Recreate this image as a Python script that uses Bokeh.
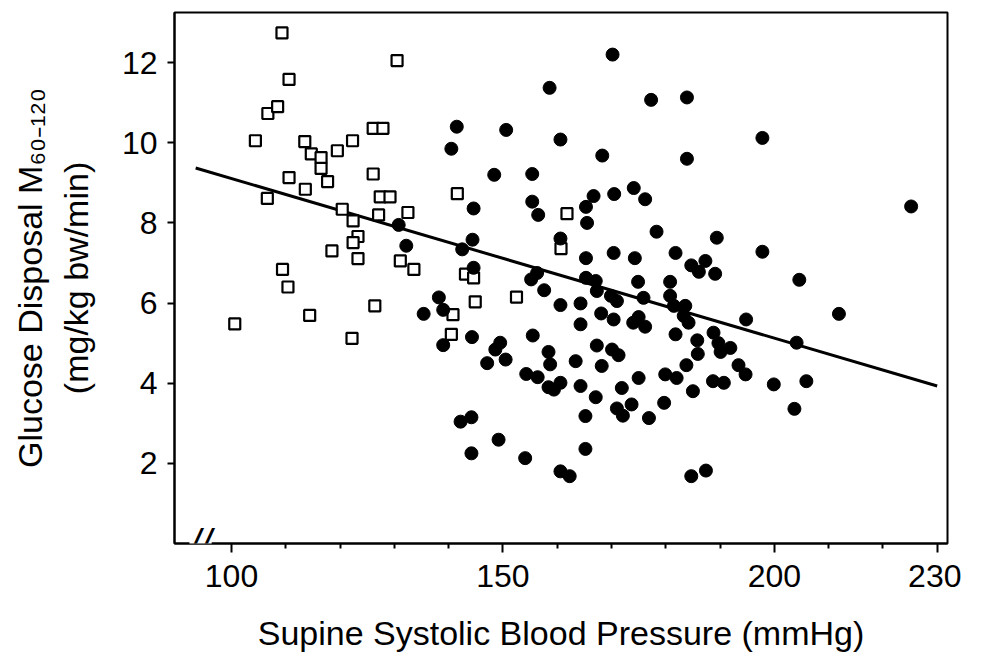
from bokeh.plotting import figure
from bokeh.models import Range1d, FixedTicker, Label
from bokeh.embed import file_html
from bokeh.resources import INLINE

# Normotensive subjects (open squares): systolic BP, glucose disposal
sq_x = [100.6, 104.4, 106.6, 106.7, 108.5, 109.3, 109.4, 110.6, 110.6, 110.4,
        113.5, 114.7, 113.6, 114.4, 116.5, 116.5, 117.7, 118.5, 119.5, 120.4,
        122.3, 122.4, 122.2, 123.3, 122.4, 123.3, 126.1, 127.9, 126.1, 127.4,
        129.2, 127.1, 126.4, 130.5, 132.5, 131.1, 133.6, 141.6, 140.8, 140.5,
        143.1, 144.6, 144.9, 152.5, 161.8, 160.7]
sq_y = [5.48, 10.05, 8.61, 10.73, 10.9, 12.74, 6.84, 11.58, 9.13, 6.4,
        10.03, 9.72, 8.84, 5.69, 9.63, 9.36, 9.03, 7.3, 9.8, 8.34,
        10.05, 8.05, 5.12, 7.66, 7.51, 7.11, 10.36, 10.36, 9.22, 8.65,
        8.65, 8.2, 5.93, 12.05, 8.26, 7.05, 6.84, 8.73, 5.71, 5.22,
        6.72, 6.63, 6.03, 6.15, 8.23, 7.36]

# Hypertensive subjects (filled circles)
ci_x = [141.5, 140.5, 130.8, 132.2, 142.5, 138.2, 139.0, 135.4, 144.3, 139.0,
        147.1, 142.2, 144.2, 144.2, 158.6, 177.3, 183.9, 150.6, 160.6, 168.3,
        183.9, 148.4, 155.4, 174.1, 170.5, 166.7, 165.3, 176.2, 144.6, 155.4,
        156.5, 165.5, 178.3, 189.4, 144.4, 160.6, 165.3, 170.4, 174.3, 181.8,
        187.3, 184.7, 186.1, 189.1, 144.6, 156.3, 155.2, 157.6, 165.3, 167.1,
        167.3, 174.9, 180.8, 169.9, 175.9, 180.8, 170.2,
        171.0, 181.5, 183.6, 160.6, 164.3, 168.1, 170.4, 175.0, 174.0, 176.2,
        183.3, 184.2, 164.3, 188.8, 155.5, 181.8, 185.8, 189.7, 190.1, 191.9,
        149.5, 148.6, 150.5, 158.4, 158.7, 163.4, 167.3, 170.1, 171.3, 168.2,
        185.9, 183.8, 188.7, 154.3, 156.4, 158.4, 159.4, 160.6, 164.3, 167.1,
        171.9, 175.0, 179.9, 182.0, 185.0, 179.7, 173.7, 171.0, 172.1, 176.9,
        165.2, 149.2, 154.1, 165.2, 160.6, 162.3, 184.7, 187.4,
        197.8, 225.2, 197.8, 204.6, 194.8, 211.9, 193.4, 194.7, 204.1, 190.7,
        199.9, 205.9, 203.7]
ci_y = [10.4, 9.85, 7.95, 7.43, 7.34, 6.14, 5.83, 5.73, 5.15, 4.95,
        4.5, 3.04, 3.15, 2.25, 11.37, 11.07, 11.13, 10.32, 10.08, 9.68,
        9.6, 9.2, 9.22, 8.87, 8.72, 8.67, 8.4, 8.59, 8.36, 8.53,
        8.2, 8.0, 7.78, 7.63, 7.58, 7.61, 7.12, 7.25, 7.12, 7.25,
        7.05, 6.94, 6.78, 6.73, 6.88, 6.75, 6.59, 6.32, 6.63, 6.55,
        6.3, 6.53, 6.53, 6.18, 6.13, 6.18, 12.2,
        6.05, 5.93, 5.93, 5.95, 5.99, 5.74, 5.59, 5.65, 5.51, 5.41,
        5.68, 5.51, 5.47, 5.26, 5.19, 5.22, 5.07, 5.0, 4.78, 4.88,
        5.01, 4.84, 4.59, 4.78, 4.47, 4.55, 4.94, 4.84, 4.7, 4.43,
        4.73, 4.45, 4.05, 4.23, 4.15, 3.9, 3.84, 4.01, 3.93, 3.65,
        3.88, 4.13, 4.22, 4.13, 3.8, 3.51, 3.47, 3.37, 3.19, 3.13,
        3.18, 2.59, 2.13, 2.36, 1.8, 1.68, 1.68, 1.82,
        10.12, 8.41, 7.28, 6.58, 5.59, 5.73, 4.45, 4.22, 5.01, 4.01,
        3.97, 4.05, 3.36]

# Regression line end points
fit_x = [93.4, 230.0]
fit_y = [9.37, 3.93]

x_major = [100, 150, 200, 230]
x_minor = [110, 120, 130, 140, 160, 170, 180, 190, 210, 220]
y_major = [2, 4, 6, 8, 10, 12]

FONT = "Liberation Sans"

p = figure(frame_width=773, frame_height=531,
           x_range=Range1d(89.5, 231.9), y_range=Range1d(0, 13.25),
           output_backend="svg", toolbar_location=None,
           min_border_left=174, min_border_top=12, min_border_right=14,
           min_border_bottom=110)

p.xgrid.visible = False
p.ygrid.visible = False
p.outline_line_color = "black"
p.outline_line_width = 2
p.background_fill_color = "white"
p.border_fill_color = "white"

for ax in (p.xaxis[0], p.yaxis[0]):
    ax.axis_line_width = 2
    ax.axis_line_color = "black"
    ax.major_tick_line_width = 2
    ax.major_tick_line_color = "black"
    ax.minor_tick_line_width = 2
    ax.minor_tick_line_color = "black"
    ax.major_tick_in = 0
    ax.minor_tick_in = 0
    ax.major_label_text_font = FONT
    ax.major_label_text_font_size = "32px"
    ax.major_label_text_color = "black"
    ax.axis_label_text_font = FONT
    ax.axis_label_text_font_size = "34px"
    ax.axis_label_text_font_style = "normal"
    ax.axis_label_text_color = "black"

xa = p.xaxis[0]
xa.ticker = FixedTicker(ticks=x_major, minor_ticks=x_minor)
xa.major_tick_out = 9
xa.minor_tick_out = 5
xa.major_label_standoff = 12
xa.axis_label = "Supine Systolic Blood Pressure (mmHg)"
xa.axis_label_standoff = 24

ya = p.yaxis[0]
ya.ticker = FixedTicker(ticks=y_major, minor_ticks=[])
ya.major_tick_out = 7
ya.minor_tick_out = 0
ya.major_label_standoff = 10
ya.axis_label = "Glucose Disposal M\u2086\u2080\u208b\u2081\u2082\u2080\n(mg/kg bw/min)"
ya.axis_label_standoff = 24

p.line(fit_x, fit_y, line_width=3, line_color="black")
p.scatter(sq_x, sq_y, marker="square", size=11, fill_color="white",
          line_color="black", line_width=2.2)
p.scatter(ci_x, ci_y, marker="circle", size=13, fill_color="black",
          line_color="black")

brk = Label(x=94.3, y=0, text="//", text_font=FONT, text_font_size="40px",
            text_align="center", text_baseline="middle",
            text_font_style="italic", background_fill_color="white",
            text_color="black")
p.add_layout(brk)

open("out.html", "w").write(file_html(p, INLINE))
